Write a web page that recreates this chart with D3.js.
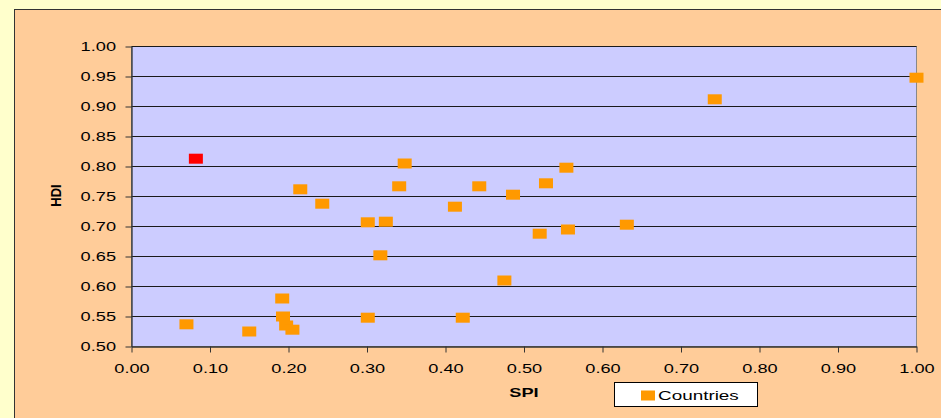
<!DOCTYPE html>
<html><head><meta charset="utf-8">
<script src="https://cdn.jsdelivr.net/npm/d3@7"></script>
<style>
html,body{margin:0;padding:0;background:#FFFFCC;overflow:hidden;}
svg{display:block;}
text{font-family:Arial,"Liberation Sans",sans-serif;fill:#000;}
</style></head>
<body>
<script>
// ---- data ----
const countrySPI = [0.070, 0.150, 0.192, 0.193, 0.197, 0.205, 0.301, 0.422, 0.475, 0.317,
  0.348, 0.215, 0.341, 0.243, 0.301, 0.324, 0.412, 0.443, 0.486, 0.528,
  0.554, 0.520, 0.556, 0.631, 0.743, 1.000];
const countryHDI = [0.537, 0.525, 0.580, 0.550, 0.535, 0.528, 0.548, 0.548, 0.610, 0.652,
  0.805, 0.762, 0.767, 0.738, 0.707, 0.708, 0.733, 0.767, 0.753, 0.772,
  0.798, 0.688, 0.695, 0.703, 0.912, 0.948];
const highlightSPI = [0.082];
const highlightHDI = [0.813];
const xTicks = [0,0.1,0.2,0.3,0.4,0.5,0.6,0.7,0.8,0.9,1.0];
const yTicks = [0.50,0.55,0.60,0.65,0.70,0.75,0.80,0.85,0.90,0.95,1.00];
const xTitle = "SPI", yTitle = "HDI", legendLabel = "Countries";

// ---- layout ----
const W = 941, H = 418;
const plot = {l: 131.5, t: 46.5, r: 916.5, b: 346.5};
const SX = 1.4; // horizontal text stretch

const svg = d3.select("body").append("svg").attr("width", W).attr("height", H);
svg.append("rect").attr("x",14.5).attr("y",9.5).attr("width",W).attr("height",H)
  .attr("fill","#FFCC99").attr("stroke","#333").attr("stroke-width",1);

const x = d3.scaleLinear().domain([0,1]).range([plot.l, plot.r]);
const y = d3.scaleLinear().domain([0.5,1]).range([plot.b, plot.t]);

svg.append("rect").attr("x",plot.l).attr("y",plot.t)
  .attr("width",plot.r-plot.l).attr("height",plot.b-plot.t)
  .attr("fill","#CCCCFF").attr("stroke","#888").attr("stroke-width",1);

// gridlines
svg.append("g").selectAll("line").data(yTicks.slice(1)).join("line")
  .attr("x1",plot.l).attr("x2",plot.r)
  .attr("y1",d=>y(d)).attr("y2",d=>y(d))
  .attr("stroke","#1a1a1a").attr("stroke-width",1);

// axes
const fmt = d3.format(".2f");
const gx = svg.append("g").attr("transform",`translate(0,${plot.b})`)
  .call(d3.axisBottom(x).tickValues(xTicks).tickFormat(fmt).tickSize(6).tickSizeOuter(0));
const gy = svg.append("g").attr("transform",`translate(${plot.l},0)`)
  .call(d3.axisLeft(y).tickValues(yTicks).tickFormat(fmt).tickSize(6).tickSizeOuter(0));
[gx,gy].forEach(g=>{
  g.select(".domain").attr("stroke","#333").attr("stroke-width",1.3);
  g.selectAll(".tick line").attr("stroke","#333");
  g.selectAll("text").attr("font-size",13).attr("font-family","Arial, 'Liberation Sans', sans-serif").attr("fill","#000");
});
gx.selectAll(".tick text").attr("y",27).attr("dy",0).attr("x",0)
  .attr("transform",`scale(${SX},1)`);
gy.selectAll(".tick text").attr("x",-15.5/SX).attr("dy","0.34em")
  .attr("transform",`scale(${SX},1)`);

// axis titles
svg.append("text").attr("transform",`translate(${(plot.l+plot.r)/2},397) scale(${SX},1)`)
  .attr("text-anchor","middle").attr("font-size",13).attr("font-weight","bold").text(xTitle);
svg.append("text").attr("transform",`translate(60.5,${(plot.t+plot.b)/2 - 1}) scale(1.15,1) rotate(-90)`)
  .attr("text-anchor","middle").attr("font-size",13).attr("font-weight","bold").text(yTitle);

// points
const mw = 14, mh = 10;
svg.append("g").selectAll("rect").data(countrySPI.map((s,i)=>[s,countryHDI[i]])).join("rect")
  .attr("x",d=>x(d[0])-mw/2).attr("y",d=>y(d[1])-mh/2)
  .attr("width",mw).attr("height",mh).attr("fill","#FF9900");
svg.append("g").selectAll("rect").data(highlightSPI.map((s,i)=>[s,highlightHDI[i]])).join("rect")
  .attr("x",d=>x(d[0])-mw/2).attr("y",d=>y(d[1])-mh/2)
  .attr("width",mw).attr("height",mh).attr("fill","#FF0000");

// legend
const lg = svg.append("g");
lg.append("rect").attr("x",614.5).attr("y",382.5).attr("width",143).attr("height",24)
  .attr("fill","#fff").attr("stroke","#000").attr("stroke-width",1);
lg.append("rect").attr("x",641).attr("y",390.5).attr("width",14).attr("height",10).attr("fill","#FF9900");
lg.append("text").attr("transform",`translate(658,399.5) scale(${SX},1)`)
  .attr("font-size",13.5).text(legendLabel);
</script>
</body></html>
